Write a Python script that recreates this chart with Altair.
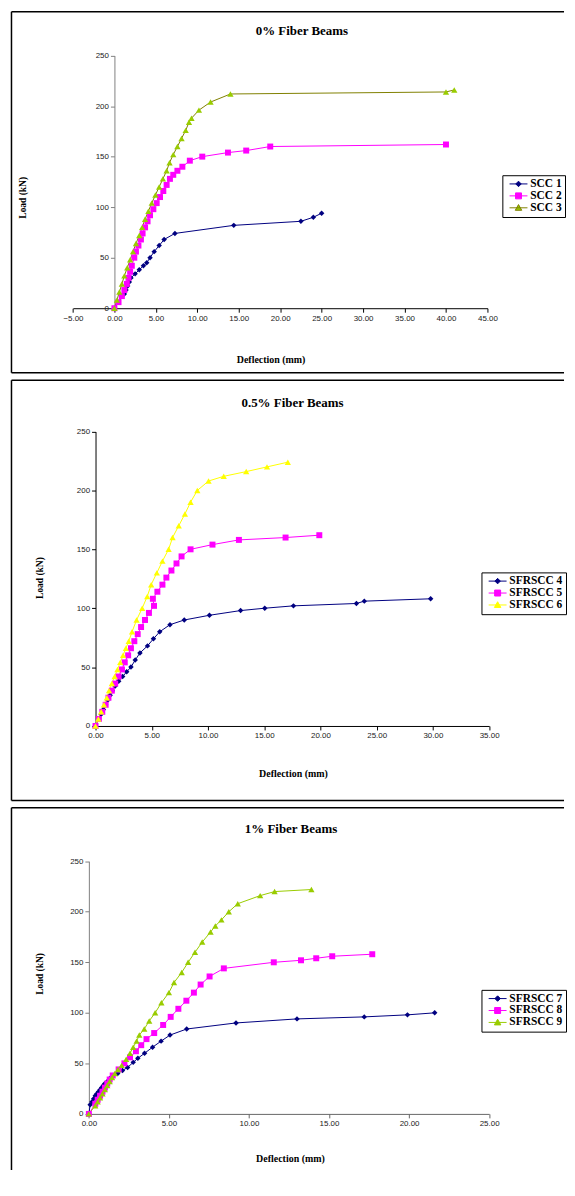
import altair as alt
import pandas as pd

# ---------------- data ----------------
p1_names = ["SCC 1", "SCC 2", "SCC 3"]
scc1_d = [0, 1.2, 1.4, 1.6, 1.8, 2.0, 2.5, 3.0, 3.5, 3.9, 4.3, 4.8, 5.4, 6.0, 7.3, 14.4, 22.5, 24.0, 25.0]
scc1_L = [0, 14, 18, 22, 26, 30, 34, 38, 42, 45, 50, 56, 62, 68, 74, 82, 86, 90, 94]
scc2_d = [0, 0.5, 0.9, 1.2, 1.5, 1.7, 1.9, 2.1, 2.4, 2.6, 2.9, 3.2, 3.4, 3.7, 4.0, 4.3, 4.7, 5.1, 5.5, 5.9,
          6.3, 6.7, 7.1, 7.6, 8.2, 9.1, 10.6, 13.7, 15.9, 18.8, 40.0]
scc2_L = [0, 6, 12, 18, 24, 30, 36, 42, 50, 56, 62, 68, 74, 80, 86, 92, 98, 104, 110, 116,
          122, 128, 132, 136, 140, 146, 150, 154, 156, 160, 162]
scc3_d = [0, 0.3, 0.6, 0.9, 1.2, 1.55, 1.9, 2.25, 2.6, 3.0, 3.35, 3.7, 4.1, 4.5, 4.95, 5.4, 5.85, 6.3, 6.65, 7.1,
          7.6, 8.1, 8.6, 9.0, 9.3, 10.2, 11.6, 14.0, 40.0, 41.0]
scc3_L = [0, 8, 16, 24, 32, 40, 48, 56, 64, 72, 80, 88, 96, 104, 112, 120, 128, 136, 144, 152,
          160, 168, 176, 184, 188, 196, 204, 212, 214, 216]

p2_names = ["SFRSCC 4", "SFRSCC 5", "SFRSCC 6"]
s4_d = [0, 0.3, 0.5, 0.7, 0.9, 1.1, 1.3, 1.5, 1.75, 2.06, 2.41, 2.77, 3.15, 3.53, 3.95, 4.62, 5.15, 5.71, 6.62, 7.89,
        10.13, 12.9, 15.05, 17.6, 23.2, 23.9, 29.8]
s4_L = [0, 6, 10, 14, 18, 22, 26, 30, 34, 38, 42, 46, 50, 56, 62, 68, 74, 80, 86, 90,
        94, 98, 100, 102, 104, 106, 108]
s5_d = [0, 0.3, 0.6, 0.9, 1.15, 1.45, 1.75, 2.05, 2.35, 2.6, 2.9, 3.15, 3.45, 3.75, 4.05, 4.4, 4.75, 5.2, 5.1, 5.5,
        5.95, 6.3, 6.75, 7.2, 7.65, 8.45, 10.4, 12.75, 16.9, 19.9]
s5_L = [0, 6, 12, 18, 24, 30, 36, 42, 48, 54, 60, 66, 72, 78, 84, 90, 96, 102, 108, 114,
        120, 126, 132, 138, 144, 150, 154, 158, 160, 162]
s6_d = [0, 0.25, 0.5, 0.75, 1.0, 1.2, 1.45, 1.7, 1.95, 2.2, 2.45, 2.7, 2.95, 3.25, 3.65, 4.15, 4.6, 4.95, 5.45, 5.95,
        6.5, 6.85, 7.4, 7.95, 8.45, 9.05, 10.05, 11.4, 13.4, 15.25, 17.1]
s6_L = [0, 6, 12, 18, 24, 30, 36, 42, 48, 54, 60, 66, 72, 80, 90, 100, 110, 120, 130, 140,
        150, 160, 170, 180, 190, 200, 208, 212, 216, 220, 224]

p3_names = ["SFRSCC 7", "SFRSCC 8", "SFRSCC 9"]
s7_d = [0, 0.08, 0.2, 0.3, 0.4, 0.5, 0.6, 0.7, 0.8, 0.9, 1.0, 1.15, 1.3, 1.5, 1.8, 2.1, 2.42, 2.77, 3.06, 3.48,
        3.98, 4.51, 5.07, 6.11, 9.19, 13.0, 17.2, 19.9, 21.6]
s7_L = [0, 9, 12, 15, 18, 20, 22, 24, 26, 28, 30, 32, 35, 38, 40, 43, 46, 51, 55, 60,
        66, 72, 78, 84, 90, 94, 96, 98, 100]
s8_d = [0, 0.4, 0.55, 0.7, 0.85, 1.0, 1.15, 1.3, 1.49, 1.86, 2.22, 2.57, 2.94, 3.27, 3.6, 4.08, 4.64, 5.11, 5.59, 6.09,
        6.56, 6.98, 7.54, 8.43, 11.55, 13.25, 14.2, 15.2, 17.7]
s8_L = [0, 10, 14, 18, 22, 26, 30, 34, 38, 44, 50, 56, 62, 68, 74, 80, 88, 96, 104, 112,
        120, 128, 136, 144, 150, 152, 154, 156, 158]
s9_d = [0, 0.4, 0.55, 0.7, 0.85, 1.0, 1.15, 1.3, 1.45, 1.62, 1.82, 2.05, 2.33, 2.57, 2.77, 2.98, 3.15, 3.46, 3.77, 4.14,
        4.53, 5.0, 5.32, 5.8, 6.2, 6.63, 7.08, 7.6, 7.9, 8.28, 8.74, 9.3, 10.7, 11.6, 13.9]
s9_L = [0, 8, 12, 16, 20, 24, 28, 32, 36, 40, 44, 48, 54, 60, 66, 72, 78, 84, 92, 100,
        110, 120, 130, 140, 150, 160, 170, 180, 186, 192, 200, 208, 216, 220, 222]

titles = ["0% Fiber Beams", "0.5% Fiber Beams", "1% Fiber Beams"]
x_title = "Deflection (mm)"
y_title = "Load (kN)"
p1_xticks = [-5, 0, 5, 10, 15, 20, 25, 30, 35, 40, 45]
p2_xticks = [0, 5, 10, 15, 20, 25, 30, 35]
p3_xticks = [0, 5, 10, 15, 20, 25]
y_ticks = [0, 50, 100, 150, 200, 250]

# ---------------- styling ----------------
SERIF = "Liberation Serif"
SANS = "Liberation Sans"
W = 559
NAVY, MAG = "#000080", "#FF00FF"
shapes = ["diamond", "square", "triangle-up"]
sizes = [30, 36, 40]
leg_paths = [
    "M-0.3,0L3.3,0M1.5,-0.55L2.05,0L1.5,0.55L0.95,0Z",
    "M-0.3,0L3.3,0M0.9,-0.6H2.1V0.6H0.9Z",
    "M-0.3,0L3.3,0M1.5,-0.65L2.15,0.5H0.85Z",
]


def series_df(names, ds, ls):
    rows = []
    for n, dd, ll in zip(names, ds, ls):
        for i, (a, b) in enumerate(zip(dd, ll)):
            rows.append({"series": n, "d": a, "L": b, "i": i})
    return pd.DataFrame(rows)


def one(text):
    return pd.DataFrame({"t": [text]})


def panel(df, names, title, xdom, xticks, xrange, yrange, H, xoff, yoff,
          line_colors, mark_colors, tpos, xtpos, ytpos, legpos, bx, btop, bbot,
          xcol, ycol):
    xs = alt.Scale(domain=xdom, range=xrange, nice=False, zero=False)
    ys = alt.Scale(domain=[0, 250], range=yrange, nice=False, zero=False)
    common = dict(title=None, tickSize=4, labelFont=SANS, labelFontSize=8, labelColor="#222",
                  grid=False, labelFlush=False, labelOverlap=False, labelPadding=2,
                  domainWidth=1, tickWidth=1)
    xaxis = alt.Axis(values=xticks, format=".2f", offset=xoff, domainColor=xcol, tickColor=xcol, **common)
    yaxis = alt.Axis(values=y_ticks, format="d", offset=yoff, domainColor=ycol, tickColor=ycol, **common)
    legend = alt.Legend(
        orient="none", legendX=legpos[0], legendY=legpos[1], title=None,
        padding=3, rowPadding=-1.5, labelFont=SERIF, labelFontSize=11.5, labelFontWeight="bold",
        labelColor="black", labelOffset=13.5, symbolSize=100, symbolStrokeWidth=1,
        symbolOpacity=1, strokeColor="black",
    )
    stroke_scale = alt.Scale(domain=names, range=line_colors)
    base = alt.Chart(df)
    lines = base.mark_line(strokeWidth=1).encode(
        x=alt.X("d:Q", scale=xs, axis=xaxis),
        y=alt.Y("L:Q", scale=ys, axis=yaxis),
        stroke=alt.Stroke("series:N", scale=stroke_scale, legend=legend),
        order="i:Q",
    )
    # legend carrier layer (no rows drawn): line + marker symbols per series
    leg = base.transform_filter("false").mark_point(filled=True, opacity=1, strokeWidth=1).encode(
        x=alt.X("d:Q", scale=xs),
        y=alt.Y("L:Q", scale=ys),
        color=alt.Color("series:N", scale=alt.Scale(domain=names, range=mark_colors), legend=legend),
        stroke=alt.Stroke("series:N", scale=stroke_scale, legend=legend),
        shape=alt.Shape("series:N", scale=alt.Scale(domain=names, range=leg_paths), legend=legend),
    )
    layers = [lines, leg]
    for n, shp, sz, col in zip(names, shapes, sizes, mark_colors):
        layers.append(
            base.transform_filter(alt.datum.series == n).mark_point(
                filled=True, opacity=1, strokeWidth=0, shape=shp, size=sz, color=col
            ).encode(x=alt.X("d:Q", scale=xs), y=alt.Y("L:Q", scale=ys))
        )
    layers.append(alt.Chart(one(title)).mark_text(
        font=SERIF, fontWeight="bold", fontSize=13, align="center", baseline="alphabetic", color="black"
    ).encode(x=alt.value(tpos[0]), y=alt.value(tpos[1]), text="t:N"))
    layers.append(alt.Chart(one(x_title)).mark_text(
        font=SERIF, fontWeight="bold", fontSize=10, align="center", baseline="middle", color="black"
    ).encode(x=alt.value(xtpos[0]), y=alt.value(xtpos[1]), text="t:N"))
    layers.append(alt.Chart(one(y_title)).mark_text(
        font=SERIF, fontWeight="bold", fontSize=9.5, align="center", baseline="middle", angle=270, color="black"
    ).encode(x=alt.value(ytpos[0]), y=alt.value(ytpos[1]), text="t:N"))
    rule = dict(color="black", strokeWidth=1.5)
    layers.append(alt.Chart(one("l")).mark_rule(**rule).encode(
        x=alt.value(bx), y=alt.value(btop), y2=alt.value(bbot)))
    layers.append(alt.Chart(one("t")).mark_rule(**rule).encode(
        x=alt.value(bx), x2=alt.value(W), y=alt.value(btop)))
    if bbot < H:
        layers.append(alt.Chart(one("b")).mark_rule(**rule).encode(
            x=alt.value(bx), x2=alt.value(W), y=alt.value(bbot)))
    return alt.layer(*layers).properties(width=W, height=H)


df1 = series_df(p1_names, [scc1_d, scc2_d, scc3_d], [scc1_L, scc2_L, scc3_L])
df2 = series_df(p2_names, [s4_d, s5_d, s6_d], [s4_L, s5_L, s6_L])
df3 = series_df(p3_names, [s7_d, s8_d, s9_d], [s7_L, s8_L, s9_L])

H1, H2, H3 = 367, 430, 368
c1 = panel(df1, p1_names, titles[0], [-5, 45], p1_xticks, [65.3, 482], [298.7, 44.7], H1,
           298.7 - H1, -107, [NAVY, MAG, "#808000"], [NAVY, MAG, "#99CC00"],
           (295.5, 24), (264.5, 351), (15.3, 187.7), (497, 165), 3.5, 0.75, 363.7, "black", "#808080")
c2 = panel(df2, p2_names, titles[1], [0, 35], p2_xticks, [88, 483.7], [351.7, 55.7], H2,
           351.7 - H2, -88, [NAVY, MAG, "#FFFF00"], [NAVY, MAG, "#FFFF00"],
           (286, 31), (287, 400), (32, 203), (476, 197.3), 3.5, 4, 426.7, "black", "black")
c3 = panel(df3, p3_names, titles[2], [0, 25], p3_xticks, [81.3, 483.7], [311.7, 57.7], H3,
           311.7 - H3, -81.3, [NAVY, MAG, "#99CC00"], [NAVY, MAG, "#99CC00"],
           (284.5, 29), (284, 357), (32, 171), (476, 187), 3.5, 4, H3, "#666666", "#808080")

chart = alt.vconcat(c1, c2, c3, spacing=0, bounds="flush").resolve_scale(
    x="independent", y="independent", color="independent", shape="independent",
    stroke="independent"
).resolve_legend(color="independent", shape="independent", stroke="independent").configure_view(
    strokeWidth=0
).properties(
    padding={"left": 0, "top": 0, "right": 0, "bottom": 0}
)

chart.save("out.html", embed_options={"renderer": "svg", "actions": False})
